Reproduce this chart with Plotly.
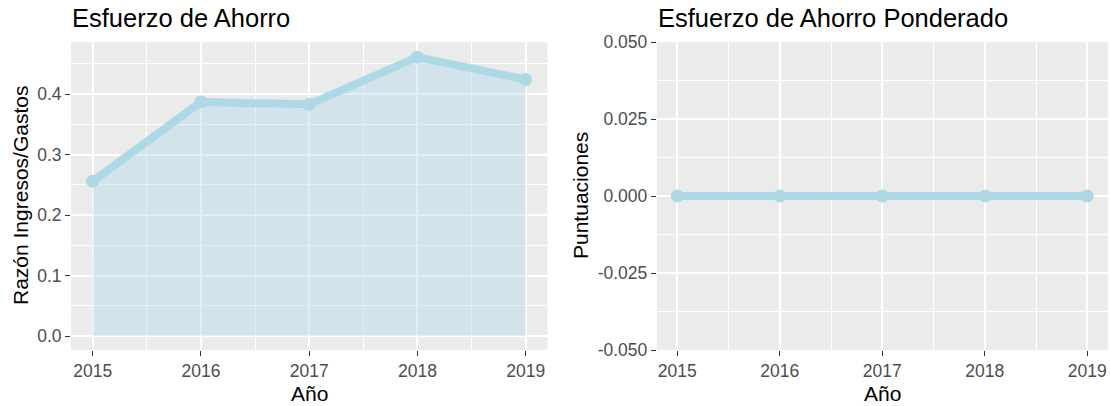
import plotly.graph_objects as go

# ---- data ----
years = [2015, 2016, 2017, 2018, 2019]
ratio_values = [0.256, 0.387, 0.383, 0.461, 0.424]
weighted_values = [0.0, 0.0, 0.0, 0.0, 0.0]
left_yticks = [0.0, 0.1, 0.2, 0.3, 0.4]
left_yticklabels = ["0.0", "0.1", "0.2", "0.3", "0.4"]
right_yticks = [-0.05, -0.025, 0.0, 0.025, 0.05]
right_yticklabels = ["-0.050", "-0.025", "0.000", "0.025", "0.050"]
year_labels = ["2015", "2016", "2017", "2018", "2019"]

W, H = 1110, 406
def fx(px):
    return px / W
def fy(px):
    return 1 - px / H

LINE = "#ADD8E6"
FILL = "rgba(173,216,230,0.4)"
BG = "#EBEBEB"
TICKC = "#4D4D4D"
FONT = "Liberation Sans, Arial, sans-serif"

fig = go.Figure()
fig.add_trace(go.Scatter(
    x=years, y=ratio_values, mode="lines+markers",
    fill="tozeroy", fillcolor=FILL,
    line=dict(color=LINE, width=8),
    marker=dict(color=LINE, size=13),
    xaxis="x", yaxis="y", showlegend=False, hoverinfo="x+y"))
fig.add_trace(go.Scatter(
    x=years, y=weighted_values, mode="lines+markers",
    line=dict(color=LINE, width=8),
    marker=dict(color=LINE, size=13),
    xaxis="x2", yaxis="y2", showlegend=False, hoverinfo="x+y"))

ydom = [fy(350), fy(42)]
common_axis = dict(
    showgrid=True, gridcolor="white", gridwidth=2,
    zeroline=False, showline=False, automargin=False,
    ticks="outside", ticklen=5, tickwidth=1, tickcolor="#333333",
    tickfont=dict(family=FONT, size=17.5, color=TICKC),
)

fig.update_layout(
    width=W, height=H,
    margin=dict(l=0, r=0, t=0, b=0),
    paper_bgcolor="white", plot_bgcolor=BG,
    font=dict(family=FONT),
    xaxis=dict(domain=[fx(71), fx(547.3)], range=[2014.8, 2019.2],
               tickvals=years, ticktext=year_labels, anchor="y",
               minor=dict(dtick=0.5, tick0=2014.5, showgrid=True, gridcolor="white", gridwidth=1, ticks=""),
               **common_axis),
    yaxis=dict(domain=ydom, range=[-0.023, 0.486],
               tickvals=left_yticks, ticktext=left_yticklabels, anchor="x",
               minor=dict(dtick=0.05, tick0=0.05, showgrid=True, gridcolor="white", gridwidth=1, ticks=""),
               **common_axis),
    xaxis2=dict(domain=[fx(656.8), fx(1107.8)], range=[2014.8, 2019.2],
                tickvals=years, ticktext=year_labels, anchor="y2",
                minor=dict(dtick=0.5, tick0=2014.5, showgrid=True, gridcolor="white", gridwidth=1, ticks=""),
                **common_axis),
    yaxis2=dict(domain=ydom, range=[-0.05, 0.05],
                tickvals=right_yticks, ticktext=right_yticklabels, anchor="x2",
                minor=dict(dtick=0.0125, tick0=0.0, showgrid=True, gridcolor="white", gridwidth=1, ticks=""),
                **common_axis),
)

ann = []
# titles
ann.append(dict(text="Esfuerzo de Ahorro", x=fx(70), y=fy(18), xref="paper", yref="paper",
                xanchor="left", yanchor="middle", showarrow=False,
                font=dict(family=FONT, size=25.5, color="black")))
ann.append(dict(text="Esfuerzo de Ahorro Ponderado", x=fx(656), y=fy(18), xref="paper", yref="paper",
                xanchor="left", yanchor="middle", showarrow=False,
                font=dict(family=FONT, size=25.5, color="black")))
# x axis titles
for cx in [(71 + 547.3) / 2, (656.8 + 1107.8) / 2]:
    ann.append(dict(text="Año", x=fx(cx), y=fy(393), xref="paper", yref="paper",
                    xanchor="center", yanchor="middle", showarrow=False,
                    font=dict(family=FONT, size=21, color="black")))
# y axis titles
ann.append(dict(text="Razón Ingresos/Gastos", x=fx(20), y=fy(196), xref="paper", yref="paper",
                xanchor="center", yanchor="middle", showarrow=False, textangle=-90,
                font=dict(family=FONT, size=21, color="black")))
ann.append(dict(text="Puntuaciones", x=fx(580), y=fy(196), xref="paper", yref="paper",
                xanchor="center", yanchor="middle", showarrow=False, textangle=-90,
                font=dict(family=FONT, size=21, color="black")))
fig.update_layout(annotations=ann)

fig.write_html("out.html", config={"displayModeBar": False},
               post_script="document.body.style.margin='0px';")
